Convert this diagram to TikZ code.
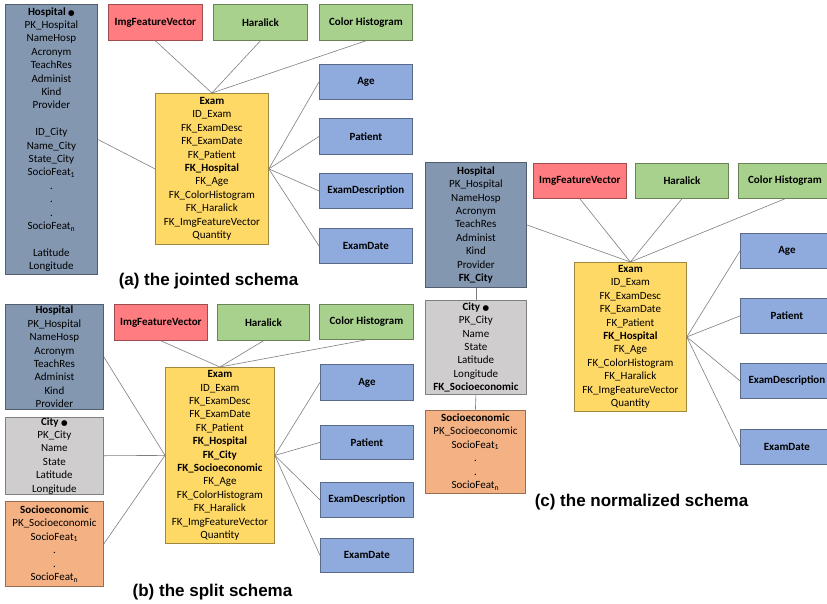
\documentclass[tikz,border=0pt]{standalone}
\usepackage{fontspec}
\setmainfont{Carlito}
\newfontfamily\titlefont{Liberation Sans}
\newfontfamily\symfont{DejaVu Sans}
\newcommand{\keydot}{{\symfont\fontsize{7.5}{7.5}\selectfont ●}}
\newcommand{\gap}{\\[13.4pt]}

\definecolor{hospfill}{HTML}{8497B0}
\definecolor{imgfill}{HTML}{FF7C80}
\definecolor{greenfill}{HTML}{A9D18E}
\definecolor{bluefill}{HTML}{8FAADC}
\definecolor{examfill}{HTML}{FFD966}
\definecolor{cityfill}{HTML}{CFCDCD}
\definecolor{sociofill}{HTML}{F4B183}
\definecolor{linkcol}{HTML}{7F7F7F}

\tikzset{
  tbl/.style={fill=#1, draw=#1!62!black, line width=0.8pt, inner sep=0pt,
    anchor=north west, align=center, font=\fontsize{11}{13.4}\selectfont},
  dim/.style args={#1x#2}{minimum width=#1pt, minimum height=#2pt},
  hosp/.style={tbl=hospfill},
  imgbox/.style={tbl=imgfill, font=\fontsize{11}{13.4}\selectfont\bfseries},
  featbox/.style={tbl=greenfill, font=\fontsize{11}{13.4}\selectfont\bfseries},
  dimbox/.style={tbl=bluefill, font=\fontsize{11}{13.4}\selectfont\bfseries},
  exam/.style={tbl=examfill},
  city/.style={tbl=cityfill},
  socio/.style={tbl=sociofill},
  link/.style={draw=linkcol, line width=0.6pt},
  caption/.style={anchor=base, inner sep=0pt, font=\titlefont\fontsize{17}{20}\selectfont\bfseries}
}

\begin{document}
\begin{tikzpicture}[x=1pt, y=-1pt]
\clip (0,0) rectangle (827,603);
\useasboundingbox (0,0) rectangle (827,603);
\fill[white] (0,0) rectangle (827,603);

% ---------- (a) jointed schema ----------
\node[hosp, dim=92x270] (hospA) at (5,4) {\textbf{Hospital} \keydot\\PK\_Hospital\\NameHosp\\Acronym\\TeachRes\\Administ\\Kind\\Provider\gap ID\_City\\Name\_City\\State\_City\\SocioFeat\textsubscript{1}\\.\\.\\.\\SocioFeat\textsubscript{n}\gap Latitude\\Longitude};
\node[imgbox, dim=94x36] (imgA) at (108,4) {ImgFeatureVector};
\node[featbox, dim=94x36] (harA) at (213,4) {Haralick};
\node[featbox, dim=93x36] (colA) at (319,4) {Color Histogram};
\node[exam, dim=113x151] (examA) at (155,93) {\textbf{Exam}\\ID\_Exam\\FK\_ExamDesc\\FK\_ExamDate\\FK\_Patient\\\textbf{FK\_Hospital}\\FK\_Age\\FK\_ColorHistogram\\FK\_Haralick\\FK\_ImgFeatureVector\\Quantity};
\node[dimbox, dim=93x35] (ageA) at (319,64) {Age};
\node[dimbox, dim=93x36] (patA) at (319,118) {Patient};
\node[dimbox, dim=93x35] (edA) at (319,173) {ExamDescription};
\node[dimbox, dim=93x35] (dateA) at (319,228) {ExamDate};
\node[caption] (capA) at (208.5,285) {(a) the jointed schema};

\draw[link] (hospA.east) -- (examA.west);
\foreach \n in {imgA,harA,colA} \draw[link] (\n.south) -- (examA.north);
\foreach \n in {ageA,patA,edA,dateA} \draw[link] (examA.east) -- (\n.west);

% ---------- (b) split schema ----------
\node[hosp, dim=98x105] (hospB) at (5,304) {\textbf{Hospital}\\PK\_Hospital\\NameHosp\\Acronym\\TeachRes\\Administ\\Kind\\Provider};
\node[city, dim=98x76] (cityB) at (5,417) {\textbf{City} \keydot\\PK\_City\\Name\\State\\Latitude\\Longitude};
\node[socio, dim=98x85] (socB) at (5,501) {\textbf{Socioeconomic}\\PK\_Socioeconomic\\SocioFeat\textsubscript{1}\\.\\.\\SocioFeat\textsubscript{n}};
\node[imgbox, dim=93x36] (imgB) at (114,304) {ImgFeatureVector};
\node[featbox, dim=92x36] (harB) at (217,304) {Haralick};
\node[featbox, dim=94x35] (colB) at (319,304) {Color Histogram};
\node[exam, dim=109x176] (examB) at (165,367) {\textbf{Exam}\\ID\_Exam\\FK\_ExamDesc\\FK\_ExamDate\\FK\_Patient\\\textbf{FK\_Hospital}\\\textbf{FK\_City}\\\textbf{FK\_Socioeconomic}\\FK\_Age\\FK\_ColorHistogram\\FK\_Haralick\\FK\_ImgFeatureVector\\Quantity};
\node[dimbox, dim=93x36] (ageB) at (320,364) {Age};
\node[dimbox, dim=93x34] (patB) at (320,425) {Patient};
\node[dimbox, dim=93x35] (edB) at (320,482) {ExamDescription};
\node[dimbox, dim=93x34] (dateB) at (320,538) {ExamDate};
\node[caption] (capB) at (212.5,596.5) {(b) the split schema};

\foreach \n in {hospB,cityB,socB} \draw[link] (\n.east) -- (examB.west);
\foreach \n in {imgB,harB,colB} \draw[link] (\n.south) -- (examB.north);
\foreach \n in {ageB,patB,edB,dateB} \draw[link] (examB.east) -- (\n.west);

% ---------- (c) normalized schema ----------
\node[hosp, dim=101x125] (hospC) at (425,162) {\textbf{Hospital}\\PK\_Hospital\\NameHosp\\Acronym\\TeachRes\\Administ\\Kind\\Provider\\\textbf{FK\_City}};
\node[city, dim=101x94] (cityC) at (425,300) {\textbf{City} \keydot\\PK\_City\\Name\\State\\Latitude\\Longitude\\\textbf{FK\_Socioeconomic}};
\node[socio, dim=100x83] (socC) at (425,410) {\textbf{Socioeconomic}\\PK\_Socioeconomic\\SocioFeat\textsubscript{1}\\.\\.\\SocioFeat\textsubscript{n}};
\node[imgbox, dim=93x35] (imgC) at (533,163) {ImgFeatureVector};
\node[featbox, dim=93x35] (harC) at (635,163) {Haralick};
\node[featbox, dim=93x35] (colC) at (738,163) {Color Histogram};
\node[exam, dim=112x149] (examC) at (574,262) {\textbf{Exam}\\ID\_Exam\\FK\_ExamDesc\\FK\_ExamDate\\FK\_Patient\\\textbf{FK\_Hospital}\\FK\_Age\\FK\_ColorHistogram\\FK\_Haralick\\FK\_ImgFeatureVector\\Quantity};
\node[dimbox, dim=93x35] (ageC) at (740,233) {Age};
\node[dimbox, dim=93x35] (patC) at (740,298) {Patient};
\node[dimbox, dim=93x35] (edC) at (740,363) {ExamDescription};
\node[dimbox, dim=93x35] (dateC) at (740,429) {ExamDate};
\node[caption] (capC) at (641.5,506.5) {(c) the normalized schema};

\draw[link] (hospC.south) -- (cityC.north);
\draw[link] (cityC.south) -- (socC.north);
\draw[link] (hospC.east) -- (examC.north);
\foreach \n in {imgC,harC,colC} \draw[link] (\n.south) -- (examC.north);
\foreach \n in {ageC,patC,edC,dateC} \draw[link] (examC.east) -- (\n.west);
\end{tikzpicture}
\end{document}
